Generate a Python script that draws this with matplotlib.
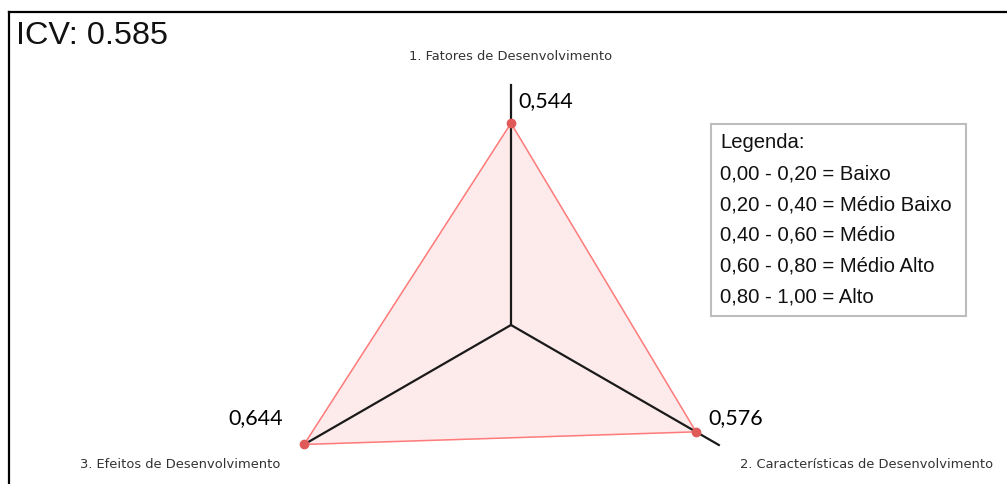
import numpy as np
import matplotlib
matplotlib.use("Agg")
import matplotlib.pyplot as plt
from matplotlib.patches import Rectangle
from matplotlib.lines import Line2D

# ---- data ----
categories = ["1. Fatores de Desenvolvimento",
              "2. Características de Desenvolvimento",
              "3. Efeitos de Desenvolvimento"]
values = [0.544, 0.576, 0.644]
value_labels = ["0,544", "0,576", "0,644"]
icv_title = "ICV: 0.585"
legend_lines = ["Legenda:",
                "0,00 - 0,20 = Baixo",
                "0,20 - 0,40 = Médio Baixo",
                "0,40 - 0,60 = Médio",
                "0,60 - 0,80 = Médio Alto",
                "0,80 - 1,00 = Alto"]

W, H = 1007, 484
fig = plt.figure(figsize=(W / 100, H / 100), dpi=100)
fig.patch.set_facecolor("white")

def fx(px):
    return px / W

def fy(py):
    return 1 - py / H

# polar axes centred at (511, 325) px, radius 240 px
cx, cy, R = 511, 325, 240
ax = fig.add_axes([fx(cx - R), fy(cy + R), 2 * R / W, 2 * R / H], projection="polar")
ax.set_theta_zero_location("N")
ax.set_theta_direction(-1)
rmax = 0.647
ax.set_ylim(0, rmax)
ax.axis("off")

n = len(values)
angles = np.arange(n) * 2 * np.pi / n

# axis spokes
for a in angles:
    ax.plot([a, a], [0, rmax], color="#1a1a1a", lw=1.6, clip_on=False, zorder=3)

# polygon
ang_c = np.concatenate([angles, angles[:1]])
val_c = np.concatenate([values, values[:1]])
ax.fill(ang_c, val_c, color="#fdeaea", zorder=1)
ax.plot(ang_c, val_c, color="#ff7b7b", lw=1.1, zorder=2)
ax.plot(angles, values, "o", color="#e05a5a", ms=6, zorder=4, clip_on=False)

# value labels
offsets = [(7, 22), (12, 14), (-21, 26)]
aligns = ["left", "left", "right"]
for a, v, lab, off, ha in zip(angles, values, value_labels, offsets, aligns):
    ax.annotate(lab, xy=(a, v), xytext=off, textcoords="offset pixels",
                ha=ha, va="center", fontsize=15.5, family="Lato",
                color="black", annotation_clip=False)

# category labels
cat_pos = [(511, 57, "center"), (867, 465, "center"), (180, 465, "center")]
for lab, (px, py, ha) in zip(categories, cat_pos):
    fig.text(fx(px), fy(py), lab, ha=ha, va="center", fontsize=9.4,
             family="DejaVu Sans", color="#333333")

# title
fig.text(fx(16), fy(36), icv_title, ha="left", va="center", fontsize=23.3,
         family="Liberation Sans", color="#111111")

# legend box
fig.patches.append(Rectangle((fx(711), fy(316)), fx(966 - 711), (316 - 124) / H,
                             transform=fig.transFigure, facecolor="white",
                             edgecolor="#bdbdbd", lw=1.5, zorder=5))
y0, dy = 143, 30.8
for i, line in enumerate(legend_lines):
    fig.text(fx(720), fy(y0 + i * dy), line, ha="left", va="center",
             fontsize=14.6, family="Liberation Sans", color="#111111", zorder=6)

# frame lines (top and left)
fig.lines.append(Line2D([fx(9), fx(1007)], [fy(12), fy(12)], transform=fig.transFigure,
                        color="black", lw=1.6))
fig.lines.append(Line2D([fx(9), fx(9)], [fy(12), fy(484)], transform=fig.transFigure,
                        color="black", lw=1.6))

fig.savefig("out.png", dpi=100, facecolor="white")
